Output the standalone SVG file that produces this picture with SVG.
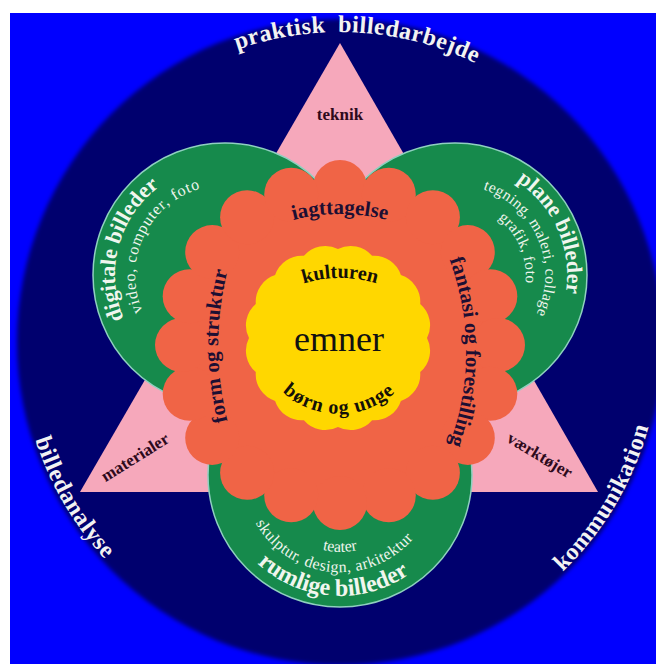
<svg xmlns="http://www.w3.org/2000/svg" width="656" height="664" viewBox="0 0 656 664">
<style>
text{font-family:"Liberation Serif","Times New Roman",serif;}
.outer{fill:#f2f2f2;font-size:24px;font-weight:bold;letter-spacing:0.5px}
.tri{fill:#2e0a1c;font-size:17px;font-weight:bold}
.fl{fill:#1d0f33;font-size:21px;font-weight:bold}
.ye{fill:#141008;font-size:20px;font-weight:bold}
.gh{fill:#f0f6ee;font-weight:bold;font-size:22px}
.gs{fill:#eef5ec;font-size:16px}
.green{fill:#168a4c;stroke:#8fd0c0;stroke-width:1.5}
.petal{fill:#f06446}
</style>
<defs>
<filter id="soft" x="-5%" y="-5%" width="110%" height="110%"><feGaussianBlur stdDeviation="2"/></filter>
<path id="pTop" d="M 30 342 A 310 310 0 0 1 650 342"/>
<path id="pBot" d="M 20 342 A 320 320 0 0 0 660 342"/>
<path id="pIag" d="M 217.9 258.5 A 190 190 0 0 1 462.1 258.5"/>
<path id="pKul" d="M 246.5 321.6 A 122 122 0 0 1 433.5 321.6"/>
<path id="pBorn" d="M 256.3 344.6 A 84 84 0 0 0 421.7 344.6"/>
<path id="pForm" d="M 288.7 540.1 A 302 302 0 0 1 288.7 151.9"/>
<path id="pFan" d="M 403.8 181 A 266 266 0 0 1 403.8 523"/>
<path id="pDig1" d="M 178.5 374.7 A 110 110 0 0 1 234.6 165.4"/>
<path id="pDig2" d="M 179.6 352.7 A 90 90 0 0 1 256.2 190.6"/>
<path id="pPl1" d="M 428.3 166.2 A 112 112 0 0 1 517.3 368.1"/>
<path id="pPl2" d="M 427.2 189.4 A 90 90 0 0 1 497.3 354.5"/>
<path id="pPl3" d="M 433.1 207.5 A 71 71 0 0 1 488.3 337.7"/>
<path id="pRu1" d="M 219.7 487.6 A 121 121 0 0 0 457.4 504.3"/>
<path id="pRu2" d="M 243 474.2 A 97 97 0 0 0 435.4 492.7"/>
<path id="pRu3" d="M 264.2 488.4 A 77 77 0 0 0 415.8 488.4"/>
</defs>

<rect id="background" x="10" y="13" width="646" height="651" fill="#0000ff"/>

<g id="outer-circle">
<circle cx="340" cy="342" r="323" fill="#00006e" filter="url(#soft)"/>
<text class="outer"><textPath href="#pTop" startOffset="427" text-anchor="middle">praktisk</textPath></text>
<text class="outer"><textPath href="#pTop" startOffset="556" text-anchor="middle">billedarbejde</textPath></text>
<text class="outer"><textPath href="#pBot" startOffset="169" text-anchor="middle">billedanalyse</textPath></text>
<text class="outer"><textPath href="#pBot" startOffset="834" text-anchor="middle">kommunikation</textPath></text>
</g>

<g id="triangle">
<polygon points="340,43 80,492 598,492" fill="#f6a8bb"/>
<text class="tri" x="340" y="120" text-anchor="middle">teknik</text>
<text class="tri" x="0" y="0" text-anchor="middle" transform="translate(138,462) rotate(-32)">materialer</text>
<text class="tri" x="0" y="0" text-anchor="middle" transform="translate(537,460) rotate(31)">værktøjer</text>
</g>

<g id="digitale-billeder">
<circle class="green" cx="225" cy="275" r="132"/>
<text class="gh"><textPath href="#pDig1" startOffset="50%" text-anchor="middle">digitale billeder</textPath></text>
<text class="gs" style="letter-spacing:0.8px"><textPath href="#pDig2" startOffset="50%" text-anchor="middle">video, computer, foto</textPath></text>
</g>

<g id="plane-billeder">
<circle class="green" cx="455" cy="275" r="132"/>
<text class="gh"><textPath href="#pPl1" startOffset="50%" text-anchor="middle">plane billeder</textPath></text>
<text class="gs" style="font-size:15.5px;letter-spacing:0.3px"><textPath href="#pPl2" startOffset="50%" text-anchor="middle">tegning, maleri, collage</textPath></text>
<text class="gs" style="font-size:15.5px;letter-spacing:0.3px"><textPath href="#pPl3" startOffset="50%" text-anchor="middle">grafik, foto</textPath></text>
</g>

<g id="rumlige-billeder">
<circle class="green" cx="340" cy="475" r="132"/>
<text class="gh" style="font-size:24px"><textPath href="#pRu1" startOffset="50%" text-anchor="middle">rumlige billeder</textPath></text>
<text class="gs" style="letter-spacing:0.5px"><textPath href="#pRu2" startOffset="50%" text-anchor="middle">skulptur, design, arkitektur</textPath></text>
<text class="gs"><textPath href="#pRu3" startOffset="50%" text-anchor="middle">teater</textPath></text>
</g>

<g id="flower">
<circle class="petal" cx="340" cy="345" r="160"/>
<circle class="petal" cx="340" cy="187" r="27"/>
<circle class="petal" cx="388.8" cy="194.7" r="27"/>
<circle class="petal" cx="432.9" cy="217.2" r="27"/>
<circle class="petal" cx="467.8" cy="252.1" r="27"/>
<circle class="petal" cx="490.3" cy="296.2" r="27"/>
<circle class="petal" cx="498" cy="345" r="27"/>
<circle class="petal" cx="490.3" cy="393.8" r="27"/>
<circle class="petal" cx="467.8" cy="437.9" r="27"/>
<circle class="petal" cx="432.9" cy="472.8" r="27"/>
<circle class="petal" cx="388.8" cy="495.3" r="27"/>
<circle class="petal" cx="340" cy="503" r="27"/>
<circle class="petal" cx="291.2" cy="495.3" r="27"/>
<circle class="petal" cx="247.1" cy="472.8" r="27"/>
<circle class="petal" cx="212.2" cy="437.9" r="27"/>
<circle class="petal" cx="189.7" cy="393.8" r="27"/>
<circle class="petal" cx="182" cy="345" r="27"/>
<circle class="petal" cx="189.7" cy="296.2" r="27"/>
<circle class="petal" cx="212.2" cy="252.1" r="27"/>
<circle class="petal" cx="247.1" cy="217.2" r="27"/>
<circle class="petal" cx="291.2" cy="194.7" r="27"/>
<text class="fl"><textPath href="#pIag" startOffset="50%" text-anchor="middle">iagttagelse</textPath></text>
<text class="fl"><textPath href="#pForm" startOffset="50%" text-anchor="middle">form og struktur</textPath></text>
<text class="fl"><textPath href="#pFan" startOffset="50%" text-anchor="middle">fantasi og forestilling</textPath></text>
</g>

<g id="emner">
<path fill="#ffd700" d="M 427 338 A 28 28 0 0 1 420.2 372.1 A 28 28 0 0 1 400.9 400.9 A 28 28 0 0 1 372.1 420.2 A 28 28 0 0 1 338 427 A 28 28 0 0 1 303.9 420.2 A 28 28 0 0 1 275.1 400.9 A 28 28 0 0 1 255.8 372.1 A 28 28 0 0 1 249 338 A 28 28 0 0 1 255.8 303.9 A 28 28 0 0 1 275.1 275.1 A 28 28 0 0 1 303.9 255.8 A 28 28 0 0 1 338 249 A 28 28 0 0 1 372.1 255.8 A 28 28 0 0 1 400.9 275.1 A 28 28 0 0 1 420.2 303.9 A 28 28 0 0 1 427 338 Z"/>
<text class="ye"><textPath href="#pKul" startOffset="50%" text-anchor="middle">kulturen</textPath></text>
<text x="339" y="351" text-anchor="middle" style="fill:#111;font-size:36px">emner</text>
<text class="ye" style="letter-spacing:1px"><textPath href="#pBorn" startOffset="50%" text-anchor="middle">børn og unge</textPath></text>
</g>
</svg>
